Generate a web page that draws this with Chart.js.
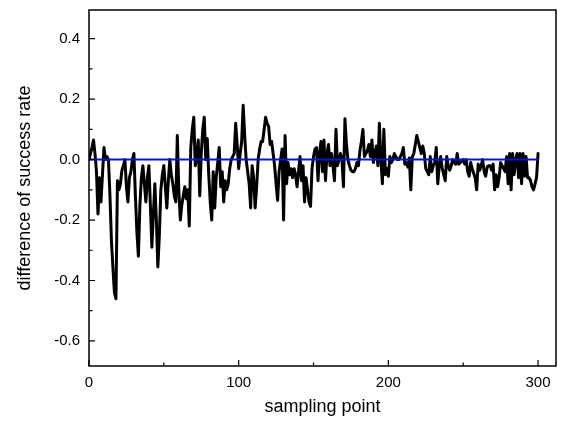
<!DOCTYPE html>
<html>
<head>
<meta charset="utf-8">
<script src="https://cdn.jsdelivr.net/npm/chart.js@4.4.0/dist/chart.umd.min.js"></script>
<style>
  html, body { margin: 0; padding: 0; background: #fff; }
  #wrap { width: 571px; height: 422px; }
</style>
</head>
<body>
<div id="wrap"><canvas id="myChart" width="571" height="422"></canvas></div>
<script>
// difference of success rate, one value per sampling point 0..300
var diffRate = [
  0.0, 0.02, 0.04, 0.065, 0.02, -0.04, -0.18, -0.06, -0.14, -0.05,
  0.04, 0.0, 0.01, 0.0, -0.12, -0.27, -0.36, -0.44, -0.46, -0.07,
  -0.10, -0.08, -0.035, -0.02, 0.0, -0.09, -0.14, -0.06, -0.04, 0.0,
  0.02, -0.12, -0.24, -0.32, -0.15, -0.06, -0.02, -0.08, -0.14, -0.06,
  -0.02, -0.15, -0.29, -0.18, -0.08, -0.2, -0.355, -0.25, -0.1, -0.05,
  -0.02, -0.09, -0.16, -0.07, 0.0, -0.05, -0.08, -0.12, -0.14, 0.08,
  -0.1, -0.2, -0.15, -0.12, -0.09, -0.13, -0.1, -0.22, 0.04, 0.1,
  0.14, -0.02, 0.01, 0.065, -0.12, 0.02, 0.1, 0.14, 0.0, 0.07,
  -0.05, -0.14, -0.2, -0.04, -0.16, -0.06, -0.01, 0.04, -0.09, -0.04,
  -0.14, -0.07, -0.1, -0.08, -0.03, 0.0, 0.01, 0.02, 0.12, 0.05,
  -0.03, 0.02, 0.06, 0.18, 0.08, 0.0, -0.04, -0.08, -0.16, -0.02,
  -0.06, -0.16, -0.09, 0.0, 0.035, 0.06, 0.06, 0.1, 0.14, 0.12,
  0.11, 0.05, 0.06, 0.02, -0.02, -0.08, -0.135, -0.04, 0.0, 0.035,
  -0.2, 0.08, -0.08, -0.01, -0.05, -0.03, -0.06, -0.03, -0.05, -0.09,
  -0.04, 0.01, -0.07, -0.02, -0.14, -0.06, -0.1, -0.14, -0.155, -0.03,
  0.01, 0.035, 0.04, -0.07, 0.02, 0.06, -0.04, 0.065, -0.07, 0.02,
  0.05, -0.02, 0.02, -0.02, -0.07, 0.1, -0.02, 0.0, 0.02, 0.0,
  -0.09, 0.135, 0.05, 0.0, -0.02, -0.035, -0.04, -0.04, -0.03, -0.01,
  -0.02, 0.03, 0.06, 0.1, 0.01, 0.02, 0.03, 0.05, 0.01, 0.065,
  -0.01, 0.02, 0.045, -0.02, 0.12, 0.0, -0.08, 0.1, -0.05, -0.03,
  -0.055, 0.01, -0.01, 0.0, 0.02, 0.01, 0.0, 0.0, 0.01, 0.02,
  0.04, -0.015, -0.01, -0.025, 0.005, -0.1, 0.01, 0.02, 0.05, 0.08,
  0.06, 0.04, 0.02, 0.045, 0.02, -0.03, -0.04, -0.05, 0.01, -0.04,
  -0.02, -0.01, 0.04, -0.08, -0.02, 0.01, -0.03, -0.05, -0.07, 0.01,
  -0.02, -0.035, -0.02, 0.0, -0.01, -0.015, 0.02, -0.015, -0.01, -0.005,
  0.0, -0.015, 0.0, -0.04, -0.055, -0.01, -0.03, -0.045, -0.06, -0.1,
  -0.015, -0.035, -0.02, 0.0, -0.04, -0.055, -0.025, -0.02, -0.02, -0.035,
  -0.015, -0.1, -0.05, -0.09, -0.06, -0.01, -0.02, -0.03, -0.04, 0.01,
  -0.08, 0.02, -0.1, 0.02, -0.05, 0.0, 0.02, -0.06, 0.02, -0.08,
  0.02, -0.055, 0.01, -0.06, -0.06, -0.07, -0.09, -0.1, -0.08, -0.06,
  0.02
];
var zeroLineX = [0, 300];
var zeroLineY = [0, 0];
var yTicks = [-0.6, -0.4, -0.2, 0.0, 0.2, 0.4];
var yMinorTicks = [-0.5, -0.3, -0.1, 0.1, 0.3];
var xTicks = [0, 100, 200, 300];
var xMinorTicks = [50, 150, 250];

var FONT = "'Liberation Sans', Arial, sans-serif";

// inward ticks + box like the Origin plot
var frame = {
  id: 'frame',
  afterDatasetsDraw: function(chart) {
    var c = chart.ctx, a = chart.chartArea;
    var xs = chart.scales.x, ys = chart.scales.y;
    c.save();
    c.strokeStyle = '#000';
    c.lineWidth = 1.5;
    c.strokeRect(a.left, a.top, a.right - a.left, a.bottom - a.top);
    c.lineWidth = 1.2;
    c.beginPath();
    yTicks.forEach(function(v){ var p = ys.getPixelForValue(v); c.moveTo(a.left, p); c.lineTo(a.left + 6, p); });
    yMinorTicks.forEach(function(v){ var p = ys.getPixelForValue(v); c.moveTo(a.left, p); c.lineTo(a.left + 3.5, p); });
    xTicks.forEach(function(v){ var p = xs.getPixelForValue(v); c.moveTo(p, a.bottom); c.lineTo(p, a.bottom - 6); });
    xMinorTicks.forEach(function(v){ var p = xs.getPixelForValue(v); c.moveTo(p, a.bottom); c.lineTo(p, a.bottom - 3.5); });
    c.stroke();
    c.restore();
  }
};

var ctx = document.getElementById('myChart');
var myChart = new Chart(ctx, {
  type: 'line',
  data: {
    datasets: [{
      data: diffRate.map(function(v, i){ return {x: i, y: v}; }),
      borderColor: '#000',
      borderWidth: 3,
      borderJoinStyle: 'round',
      borderCapStyle: 'round',
      pointRadius: 0,
      tension: 0,
      fill: false,
      order: 2
    }, {
      data: zeroLineX.map(function(v, i){ return {x: v, y: zeroLineY[i]}; }),
      borderColor: '#0a0aff',
      borderWidth: 2,
      pointRadius: 0,
      fill: false,
      order: 1
    }]
  },
  options: {
    responsive: false,
    animation: false,
    layout: { padding: { top: 10, right: 15, left: 0, bottom: 0 } },
    plugins: { legend: { display: false }, tooltip: { enabled: false } },
    scales: {
      x: {
        type: 'linear',
        min: 0,
        max: 312,
        grid: { display: false, drawTicks: false },
        border: { display: false },
        afterBuildTicks: function(s){ s.ticks = xTicks.map(function(v){ return {value: v}; }); },
        afterFit: function(s){ s.height = 56; s.paddingLeft = 0; s.paddingRight = 0; },
        ticks: { color: '#000', padding: 8, font: { family: FONT, size: 15 }, maxRotation: 0 },
        title: { display: true, text: 'sampling point', color: '#000', font: { family: FONT, size: 18 }, padding: { top: 5 } }
      },
      y: {
        min: -0.683,
        max: 0.495,
        grid: { display: false, drawTicks: false },
        border: { display: false },
        afterBuildTicks: function(s){ s.ticks = yTicks.map(function(v){ return {value: v}; }); },
        afterFit: function(s){ s.width = 89; s.paddingTop = 0; s.paddingBottom = 0; },
        ticks: {
          color: '#000', padding: 9, font: { family: FONT, size: 15 },
          callback: function(v){ return Math.abs(v) < 1e-9 ? '0.0' : v.toFixed(1); }
        },
        title: { display: true, text: 'difference of success rate', color: '#000', font: { family: FONT, size: 18 }, padding: { top: 14, bottom: 0 } }
      }
    }
  },
  plugins: [frame]
});
</script>
</body>
</html>
